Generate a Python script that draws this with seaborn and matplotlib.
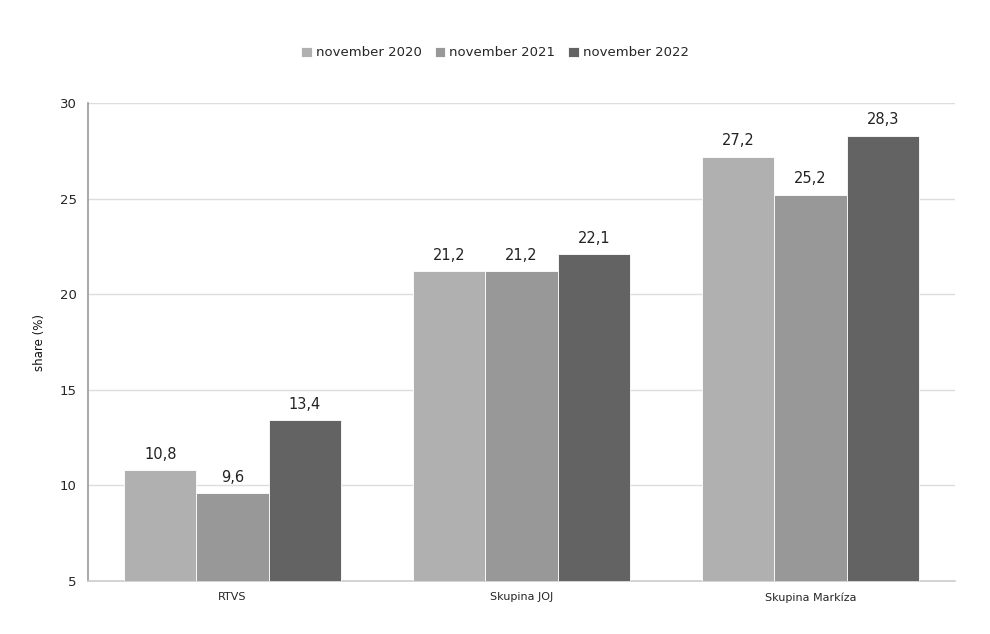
import matplotlib
matplotlib.use("Agg")
import matplotlib.pyplot as plt
import seaborn as sns
import pandas as pd

categories = ["RTVS", "Skupina JOJ", "Skupina Markíza"]
periods = ["november 2020", "november 2021", "november 2022"]
share_2020 = [10.8, 21.2, 27.2]
share_2021 = [9.6, 21.2, 25.2]
share_2022 = [13.4, 22.1, 28.3]
colors = ["#b0b0b0", "#989898", "#636363"]

rows = []
for period, vals in zip(periods, [share_2020, share_2021, share_2022]):
    for cat, v in zip(categories, vals):
        rows.append({"group": cat, "period": period, "share": v})
df = pd.DataFrame(rows)

sns.set_style("white")
plt.rcParams["font.family"] = ["DejaVu Sans"]

fig = plt.figure(figsize=(9.9, 6.34), dpi=100)
ax = fig.add_axes([0.0889, 0.0836, 0.8757, 0.7539])

sns.barplot(data=df, x="group", y="share", hue="period", order=categories,
            hue_order=periods, palette=colors, width=0.75, ax=ax,
            edgecolor="white", linewidth=0.6, saturation=1, zorder=3)

for cont in ax.containers:
    ax.bar_label(cont, labels=[f"{v:.1f}".replace(".", ",") for v in cont.datavalues],
                 padding=6, fontsize=10.5, color="#222222")

ax.set_ylim(5, 30)
ax.set_xlim(-0.5, 2.5)
ax.set_yticks([5, 10, 15, 20, 25, 30])
ax.yaxis.grid(True, color="#dddddd", linewidth=1, zorder=0)
ax.set_axisbelow(True)
ax.set_xlabel("")
ax.set_ylabel("share (%)", fontsize=8.5, labelpad=10, color="#111111")
ax.tick_params(axis="y", labelsize=9.5, length=4, color="#aaaaaa", pad=4)
ax.tick_params(axis="x", labelsize=8, length=0, pad=8)
for side in ["top", "right"]:
    ax.spines[side].set_visible(False)
ax.spines["left"].set_color("#999999")
ax.spines["bottom"].set_color("#cccccc")
ax.spines["left"].set_linewidth(1.2)
ax.spines["bottom"].set_linewidth(1.2)

handles, labels = ax.get_legend_handles_labels()
ax.get_legend().remove()
fig.legend(handles, labels, loc="center", bbox_to_anchor=(0.5, 1 - 53 / 634), ncol=3,
           frameon=False, fontsize=9.5, handlelength=0.8, handleheight=0.8,
           handletextpad=0.3, columnspacing=1.0)

fig.savefig("out.png", dpi=100)
